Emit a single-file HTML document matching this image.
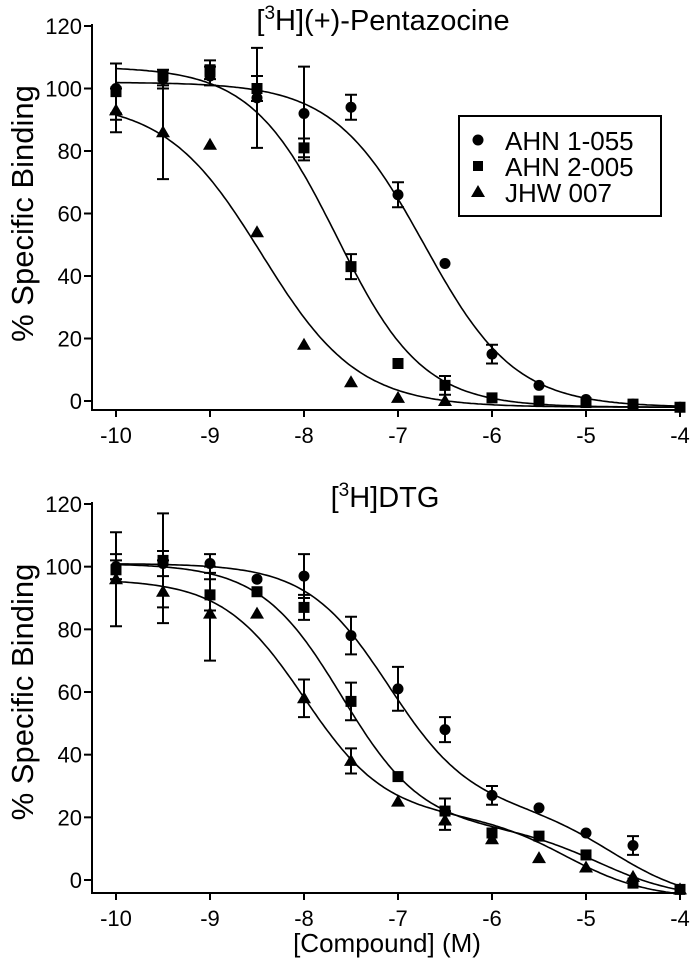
<!DOCTYPE html>
<html><head><meta charset="utf-8"><style>
html,body{margin:0;padding:0;background:#fff}
svg{display:block;font-family:"Liberation Sans",Arial,sans-serif}
</style></head><body>
<svg id="fig" width="690" height="968" viewBox="0 0 690 968"></svg>
<script>
const logConc=[-10,-9.5,-9,-8.5,-8,-7.5,-7,-6.5,-6,-5.5,-5,-4.5,-4];
const xTicks=[-10,-9,-8,-7,-6,-5,-4];
const yTicks=[0,20,40,60,80,100,120];
const seriesNames=["AHN 1-055","AHN 2-005","JHW 007"];
// Top panel: [3H](+)-Pentazocine
const topA=[100,103,104,97,92,94,66,44,15,5,0.5,-1,-2];
const topAerr=[8,3,3,16,15,4,4,1,3,1,1,1,1];
const topB=[99,104,106,100,81,43,12,5,1,0,-0.5,-1,-2];
const topBerr=[9,1,3,4,3,4,1,3,1,1,1,1,1];
const topC=[93,86,82,54,18,6,1,0,null,null,null,null,null];
const topCerr=[7,15,1,1,1,1,1,1,0,0,0,0,0];
// single-site fit params: [top, bottom, logIC50, hill]
const topFitA=[102,-2,-6.72,-0.9];
const topFitB=[107,-2,-7.65,-0.95];
const topFitC=[96,-2,-8.45,-0.85];
// Bottom panel: [3H]DTG
const botA=[100,101,101,96,97,78,61,48,27,23,15,11,-3];
const botAerr=[4,4,3,1,7,6,7,4,3,1,2,3,1];
const botB=[99,102,91,92,87,57,33,22,15,14,8,-1,-3];
const botBerr=[3,15,5,2,4,6,1,4,2,1,1,1,1];
const botC=[96,92,85,85,58,38,25,19,13,7,4,1,-3];
const botCerr=[15,10,15,1,6,4,1,3,2,1,1,1,1];
// two-site fit params: [top, bottom, fraction, logIC50a, logIC50b]
const botFitA=[101,-7,0.72,-7.1,-4.7];
const botFitB=[101,-6,0.79,-7.6,-4.85];
const botFitC=[96,-6,0.74,-8.0,-5.2];

const NS="http://www.w3.org/2000/svg";
const svg=document.getElementById('fig');
function mk(tag,attrs,parent){const e=document.createElementNS(NS,tag);for(const k in attrs)e.setAttribute(k,attrs[k]);(parent||svg).appendChild(e);return e;}

function panel(y0,y120,axisY,title,titleX,titleY,sets,fits,fitFn,name,showXTitle,showLegend){
  const g=mk('g',{});
  
  
  const xs=v=>116+(v+10)*94;
  const ys=v=>y0+(y120-y0)*v/120;
  mk('line',{x1:92,y1:y120-2,x2:92,y2:axisY,stroke:'#000','stroke-width':2},g);
  mk('line',{x1:91,y1:axisY,x2:682,y2:axisY,stroke:'#000','stroke-width':2},g);
  yTicks.forEach(t=>{
    mk('line',{x1:84,y1:ys(t),x2:92,y2:ys(t),stroke:'#000','stroke-width':2},g);
    const tx=mk('text',{x:82,y:ys(t)+8,'text-anchor':'end','font-size':22},g);tx.textContent=t;
    
    
  });
  xTicks.forEach(t=>{
    mk('line',{x1:xs(t),y1:axisY,x2:xs(t),y2:axisY+7,stroke:'#000','stroke-width':2},g);
    const tx=mk('text',{x:xs(t),y:axisY+33,'text-anchor':'middle','font-size':22},g);tx.textContent=t;
    
    
  });
  const yt=mk('text',{x:0,y:0,transform:`translate(33,${(y0+y120)/2}) rotate(-90)`,'text-anchor':'middle','font-size':31},g);
  yt.textContent='% Specific Binding';
  
  
  const tt=mk('text',{x:titleX,y:titleY,'text-anchor':'middle','font-size':29},g);
  
  
  const s1=mk('tspan',{},tt);s1.textContent='[';
  const s2=mk('tspan',{'font-size':19,dy:-11},tt);s2.textContent='3';
  const s3=mk('tspan',{dy:11},tt);s3.textContent='H]'+title;
  fits.forEach((p,i)=>{
    let d='';for(let k=0;k<=240;k++){const x=-10+6*k/240;d+=(k?'L':'M')+xs(x).toFixed(1)+','+ys(fitFn(p,x)).toFixed(1);}
    const c=mk('path',{d,fill:'none',stroke:'#000','stroke-width':1.6},g);
    
    
  });
  sets.forEach((s,i)=>{
    const [vals,errs]=s;
    vals.forEach((v,j)=>{
      if(v===null)return;
      const cx=xs(logConc[j]),cy=ys(v),e=errs[j];
      if(e>2){
        const eb=mk('path',{d:`M${cx},${ys(v+e)}V${ys(v-e)}M${cx-6},${ys(v+e)}h12M${cx-6},${ys(v-e)}h12`,stroke:'#000','stroke-width':2,fill:'none'},g);
        
        
      }
      let m;
      if(i===0)m=mk('circle',{cx,cy,r:5.5,fill:'#000'},g);
      else if(i===1)m=mk('rect',{x:cx-5.5,y:cy-5.5,width:11,height:11,fill:'#000'},g);
      else m=mk('path',{d:`M${cx},${cy-7}L${cx+7},${cy+5}L${cx-7},${cy+5}Z`,fill:'#000'},g);
      
      
    });
  });
  if(showLegend){
    const lg=mk('g',{},g);
    
    
    mk('rect',{x:459,y:116,width:202,height:100,fill:'#fff',stroke:'#000','stroke-width':2},lg);
    seriesNames.forEach((n,i)=>{
      const cy=140+i*26,cx=478;
      if(i===0)mk('circle',{cx,cy,r:5.5,fill:'#000'},lg);
      else if(i===1)mk('rect',{x:cx-5,y:cy-5,width:10,height:10,fill:'#000'},lg);
      else mk('path',{d:`M${cx},${cy-7}L${cx+7},${cy+5}L${cx-7},${cy+5}Z`,fill:'#000'},lg);
      const t=mk('text',{x:505,y:cy+10,'font-size':26},lg);t.textContent=n;
      
      
    });
  }
  if(showXTitle){
    const xt=mk('text',{x:387,y:952,'text-anchor':'middle','font-size':26},g);
    xt.textContent='[Compound] (M)';
    
    
  }
}
const oneSite=(p,x)=>p[1]+(p[0]-p[1])/(1+Math.pow(10,(p[2]-x)*p[3]));
const twoSite=(p,x)=>p[1]+(p[0]-p[1])*(p[2]/(1+Math.pow(10,x-p[3]))+(1-p[2])/(1+Math.pow(10,x-p[4])));
panel(401,26,410,'(+)-Pentazocine',383,30,[[topA,topAerr],[topB,topBerr],[topC,topCerr]],[topFitA,topFitB,topFitC],oneSite,'pentazocine-panel',false,true);
panel(880,504,893,'DTG',385,507,[[botA,botAerr],[botB,botBerr],[botC,botCerr]],[botFitA,botFitB,botFitC],twoSite,'dtg-panel',true,false);
</script>
</body></html>
